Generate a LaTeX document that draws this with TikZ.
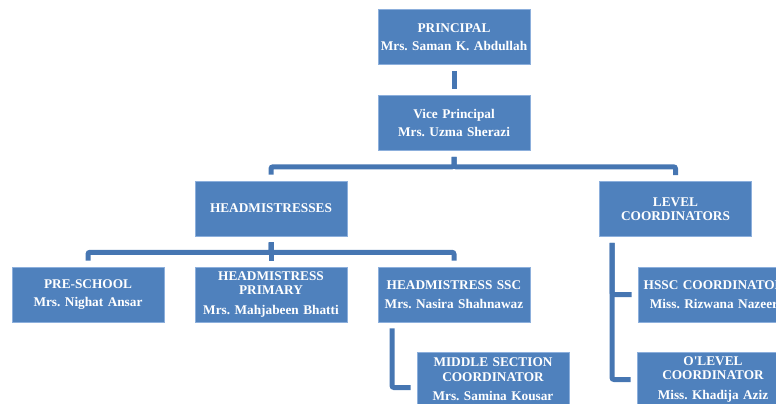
\documentclass[tikz,border=0pt]{standalone}
\usepackage{fontspec}
\setmainfont{Liberation Serif}
\frenchspacing
\definecolor{boxblue}{RGB}{79,129,189}
\definecolor{boxedge}{RGB}{140,175,220}
\definecolor{linkblue}{RGB}{70,118,178}
\begin{document}
\begin{tikzpicture}[x=1pt, y=-1pt,
        post/.style={rectangle, fill=boxblue, draw=boxedge, line width=0.6pt,
            minimum width=152pt, minimum height=55pt, inner sep=0pt,
            text width=150pt, align=center, text=white,
            font=\fontsize{13.3}{14.5}\selectfont\bfseries},
        link/.style={draw=linkblue, line width=5pt, rounded corners=2pt,
            shorten <=6pt, shorten >=6pt}]
    \useasboundingbox (0,0) rectangle (776,404);

    \node[post] (principal) at (454,37) {PRINCIPAL\\[4pt]Mrs. Saman K. Abdullah};
    \node[post] (vice) at (454,123) {Vice Principal\\[4pt]Mrs. Uzma Sherazi};
    \node[post] (heads) at (271,208.5) {HEADMISTRESSES};
    \node[post] (levels) at (675.5,209) {LEVEL\\COORDINATORS};

    \node[post] (preschool) at (88,294.5) {PRE-SCHOOL\\[4pt]Mrs. Nighat Ansar};
    \node[post] (primary) at (271,294.5) {HEADMISTRESS\\PRIMARY\\[5pt]Mrs. Mahjabeen Bhatti};
    \node[post] (ssc) at (454,294.5) {HEADMISTRESS SSC\\[4pt]Mrs. Nasira Shahnawaz};
    \node[post] (middle) at (493,379.5) {MIDDLE SECTION\\COORDINATOR\\[5pt]Mrs. Samina Kousar};

    \node[post] (hssc) at (714,294.5) {HSSC COORDINATOR\\[4pt]Miss. Rizwana Nazeer};
    \node[post] (olevel) at (713,379.5) {O\textquotesingle LEVEL\\COORDINATOR\\[5pt]Miss. Khadija Aziz};

    \draw[link] (principal) -- (vice);
    \foreach \n in {heads, levels}
        \draw[link] (vice.south) -- ++(0,16) -| (\n.north);
    \foreach \n in {preschool, primary, ssc}
        \draw[link] (heads.south) -- ++(0,16) -| (\n.north);

    % side branches
    \draw[link] ([xshift=-62pt]ssc.south) |- ([yshift=-8pt]middle.west);
    \foreach \n in {hssc, olevel}
        \draw[link] ([xshift=-63.5pt]levels.south) |- (\n.west);
\end{tikzpicture}
\end{document}
